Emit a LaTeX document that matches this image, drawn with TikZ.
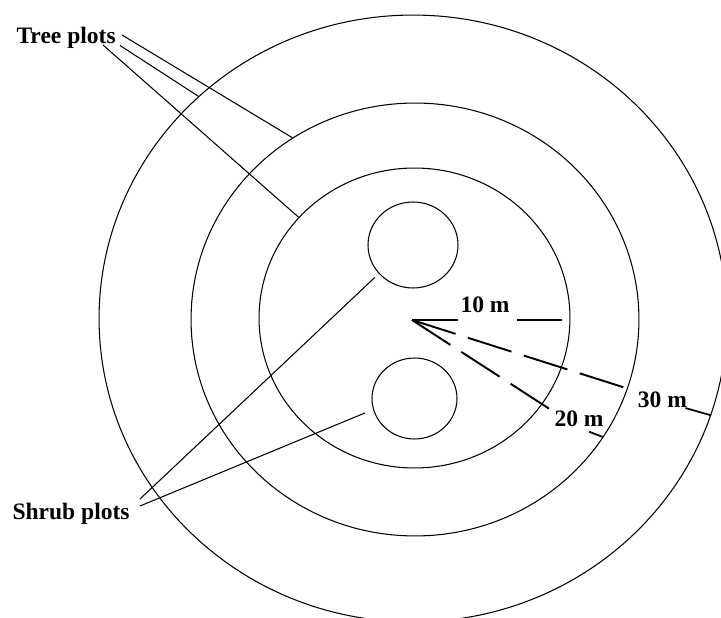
\documentclass[tikz,border=0pt]{standalone}
\usepackage{fontspec}
\setmainfont{Liberation Serif}
\usetikzlibrary{shapes.geometric,calc}
\begin{document}
\begin{tikzpicture}[x=0.02cm, y=-0.02cm, line width=0.6pt,
    ring/.style={draw, ellipse, inner sep=0pt},
    lbl/.style={inner sep=0pt, font=\fontsize{13.4}{16}\selectfont\bfseries},
    dim/.style={line width=1.1pt, dash pattern=on 26pt off 7.4pt}]
    \useasboundingbox (0,0) rectangle (721,618);
    \clip (0,0) rectangle (721,618);
    % plot rings
    \node[ring, minimum width=12.56cm, minimum height=12.14cm] (outer) at (413,318.5) {};
    \node[ring, minimum width=8.96cm, minimum height=8.66cm] (middle) at (415,319.5) {};
    \node[ring, minimum width=6.22cm, minimum height=6cm] (inner) at (414.5,318) {};
    \node[ring, minimum width=1.8cm, minimum height=1.72cm] (upper) at (413,245) {};
    \node[ring, minimum width=1.7cm, minimum height=1.62cm] (lower) at (414.5,398.5) {};
    % labels
    \node[lbl, anchor=base west] (tree) at (16,43.3) {Tree plots};
    \node[lbl, anchor=base west] (shrub) at (12,520) {Shrub plots};
    \coordinate (t1) at (122,35);
    \coordinate (t2) at (120,45.5);
    \coordinate (t3) at (103,45);
    \draw (t1) -- (middle.124);
    \draw (t2) -- (outer.134);
    \draw (t3) -- (inner.139);
    \coordinate (s1) at (140,499);
    \coordinate (s2) at (140,506);
    \draw[shorten >=3pt] (s1) -- (upper.220);
    \draw[shorten >=5pt] (s2) -- (lower.195);
    % radii
    \coordinate (c) at (412,320);
    \node[lbl, anchor=base west] (ten) at (460,312.3) {10 m};
    \coordinate (tenend) at (562,320);
    \draw (c) -- ($(c -| ten.west)+(-2,0)$);
    \draw ($(c -| ten.east)+(7,0)$) -- (tenend);
    \draw[dim] (c) -- (middle.-18);
    \node[lbl, anchor=base west] (thirty) at (637.3,408) {30 m};
    \draw[line width=1pt] ($(thirty.base east)+(-2,0)$) -- (outer.-18);
    \coordinate (d20) at (554.7,412.3);
    \draw[dim] (c) -- (d20);
    \node[lbl, anchor=base west] (twenty) at (554,426.7) {20 m};
    \draw[line width=1pt] ($(twenty.base east)+(-15,5)$) -- (middle.-32);
\end{tikzpicture}
\end{document}
